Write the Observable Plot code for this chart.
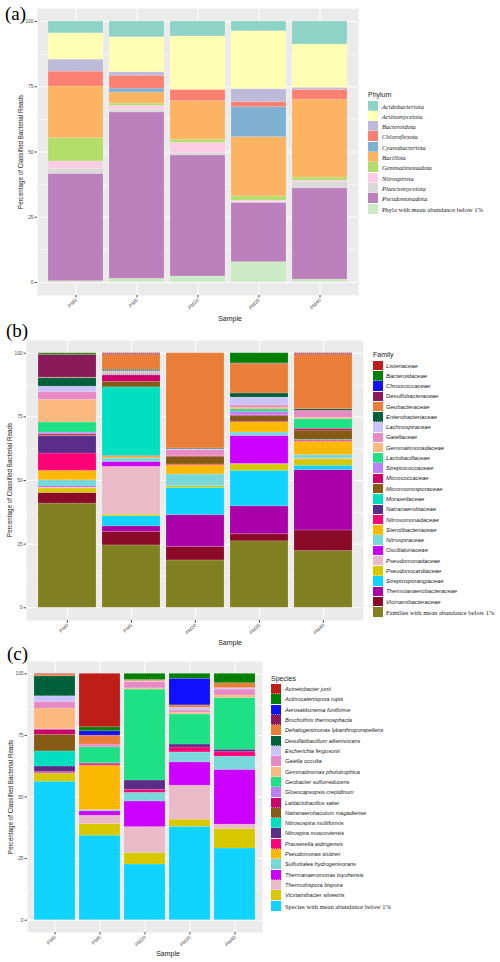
<!DOCTYPE html>
<html><head><meta charset="utf-8">
<script src="https://cdn.jsdelivr.net/npm/d3@7"></script>
<script src="https://cdn.jsdelivr.net/npm/@observablehq/plot@0.6"></script>
<style>
body{margin:0;background:#fff;}
#root{position:relative;width:500px;height:962px;overflow:hidden;font-family:"Liberation Sans",Arial,sans-serif;}
.plabel{position:absolute;font-family:"Liberation Serif","Times New Roman",serif;font-size:19px;color:#000;line-height:1;}
.ytitle{position:absolute;font-size:6.3px;color:#222;white-space:nowrap;transform:translate(-50%,-50%) rotate(-90deg);}
.xtitle{position:absolute;font-size:7px;color:#222;transform:translate(-50%,-50%);white-space:nowrap}
.lgtitle{position:absolute;font-size:7px;color:#222;white-space:nowrap;transform:translateY(-50%)}
.lgitem{position:absolute;white-space:nowrap;transform:translateY(-50%);color:#222;}
.sw{position:absolute;box-sizing:border-box;outline:0.4px dotted rgba(255,255,255,0.6);outline-offset:-0.6px}
</style>
</head>
<body>
<div id="root"></div>
<script>
// ---------- data ----------
const samples = ["PM0", "PM5", "PM20", "PM35", "PM40"];

const phyla = ["Acidobacteriota","Actinomycetota","Bacteroidota","Chloroflexota","Cyanobacteriota","Bacillota","Gemmatimonadota","Nitrospirota","Planctomycetota","Pseudomonadota","Phyla with mean abundance below 1%"];
const phylumColors = ["#8DD3C7","#FFFFB3","#BEBADA","#FB8072","#80B1D3","#FDB462","#B3DE69","#FCCDE5","#D9D9D9","#BC80BD","#CCEBC5"];
// one row per sample, values in legend order
const phylumValues = [
  [4.5, 10.1, 4.6, 5.7, 0, 19.8, 8.9, 2.9, 1.9, 41.1, 0.5],
  [6.0, 13.4, 1.4, 4.9, 1.5, 4.3, 0.8, 1.5, 1.0, 63.8, 1.4],
  [5.7, 20.5, 0, 4.3, 0, 14.8, 1.2, 3.8, 1.0, 46.4, 2.3],
  [3.7, 22.2, 5.0, 1.9, 11.5, 22.7, 1.6, 0.6, 0.3, 22.7, 7.8],
  [8.8, 16.6, 0.8, 3.7, 0, 29.9, 1.2, 0.6, 2.3, 35.0, 1.1]
];

const families = ["Listeriaceae","Bacteroidaceae","Chroococcaceae","Desulfobacteraceae","Geobacteraceae","Enterobacteriaceae","Lachnospiraceae","Gaiellaceae","Gemmatimonadaceae","Lactobacillaceae","Streptococcaceae","Micrococcaceae","Micromonosporaceae","Moraxellaceae","Natranaerobiaceae","Nitrosomonadaceae","Sterolibacteriaceae","Nitrospiraceae","Oscillatoriaceae","Pseudomonadaceae","Pseudonocardiaceae","Streptosporangiaceae","Thermoanaerobacteraceae","Vicinamibacteraceae","Families with mean abundance below 1%"];
const familyColors = ["#BE1E1E","#008000","#1010FF","#8B1A5A","#E87E38","#00603A","#CBC3FF","#E88BC4","#FCB97F","#1EE085","#BE7FFF","#CC0066","#845A14","#00E0C0","#5A2D8A","#FF0077","#FBB800","#78D8DA","#CC00FF","#EBBAC8","#D8C800","#10D4FF","#AA00AA","#8B0A28","#808020"];
const familyValues = [
  [0.1, 0.6, 0, 8.9, 0.2, 3.3, 2.1, 3.1, 8.9, 4.0, 0.6, 0.5, 0.3, 0, 6.8, 6.8, 3.7, 2.5, 0.3, 0.4, 1.8, 0, 0, 4.2, 40.9],
  [0.3, 0, 0, 0.4, 5.8, 0.5, 0.3, 0.5, 0.3, 0.3, 0.3, 2.6, 2.1, 27.0, 0, 0.3, 0.6, 1.4, 1.9, 18.8, 0.6, 4.0, 2.2, 5.3, 24.5],
  [0, 0, 0, 0, 37.4, 0.3, 0.3, 2.4, 0, 0, 0, 0.3, 3.0, 0, 0, 0.3, 3.6, 4.6, 0, 0, 0.7, 10.7, 12.5, 5.3, 18.6],
  [0, 4.0, 0, 0.2, 11.6, 1.6, 3.0, 0.9, 0.8, 0.9, 1.4, 0.3, 2.2, 0, 0, 0.3, 3.9, 1.4, 11.0, 0.2, 2.5, 13.9, 11.0, 2.8, 26.1],
  [0.3, 0, 0, 0.4, 21.3, 0.6, 0, 2.7, 0.6, 3.8, 0, 0.7, 3.6, 0.2, 0.2, 0.4, 5.2, 1.4, 0, 0.3, 2.5, 1.7, 23.7, 8.1, 22.3]
];

const species = ["Acinetobacter junii","Actinocatenispora rupis","Aerosakkonema funiforme","Brochothrix thermosphacta","Dehalogenimonas lykanthroporepellens","Desulfatibacillum alkenivorans","Escherichia fergusonii","Gaiella occulta","Gemmatimonas phototrophica","Geobacter sulfurreducens","Gloeocapsopsis crepidinum","Latilactobacillus sakei","Natranaerobaculum magadiense","Nitrosospira multiformis","Nitrospira moscoviensis","Prauserella aidingensis","Pseudomonas stutzeri","Sulfuritalea hydrogenivorans","Thermanaeromonas toyohensis","Thermobispora bispora","Vicinamibacter silvestris","Species with mean abundance below 1%"];
const speciesColors = ["#BE1E18","#008000","#1010FF","#8B1A5A","#E87E38","#00603A","#CBC3FF","#E88BC4","#FCB97F","#1EE085","#BE7FFF","#CC0066","#845A14","#00E0C0","#5A2D8A","#FF0077","#FBB800","#78D8DA","#CC00FF","#EBBAC8","#D8C800","#10D4FF"];
const speciesValues = [
  [0, 0, 0, 0.2, 0.8, 8.1, 2.3, 2.7, 8.4, 0, 0.2, 2.1, 6.7, 6.1, 2.2, 0.3, 0, 0, 0.3, 0, 3.4, 56.2],
  [21.7, 1.6, 1.8, 0, 3.6, 0, 0, 1.1, 0, 6.5, 0, 0.2, 0, 0, 0.3, 0.5, 18.0, 0.5, 1.8, 3.4, 4.7, 34.3],
  [0, 2.5, 0, 0, 0.5, 0, 0.3, 2.6, 0.5, 36.9, 0, 0, 0, 0, 3.8, 1.2, 0, 3.5, 10.4, 10.5, 4.7, 22.6],
  [0, 2.0, 10.8, 0, 1.0, 0, 1.1, 0.9, 0.7, 12.2, 0, 0, 0, 0, 1.2, 2.0, 0, 4.0, 9.5, 13.8, 2.9, 37.9],
  [0, 3.8, 0, 0, 2.0, 0, 0.6, 2.4, 1.0, 21.0, 0, 0, 0, 0, 1.0, 1.8, 0, 5.4, 22.2, 1.8, 7.9, 29.1]
];

const yTicks = [0, 25, 50, 75, 100];
const yMinor = [12.5, 37.5, 62.5, 87.5];

// ---------- drawing ----------
const root = document.getElementById("root");

function add(cls, text, styles) {
  const d = document.createElement("div");
  d.className = cls;
  d.textContent = text;
  Object.assign(d.style, styles);
  root.appendChild(d);
  return d;
}

function panel({top, width, height, mt, mb, ml, mr, cats, colors, values}) {
  const rows = [];
  samples.forEach((s, i) => {
    for (let j = cats.length - 1; j >= 0; j--) {
      if (values[i][j] > 0) rows.push({sample: s, cat: cats[j], value: values[i][j]});
    }
  });
  const chart = Plot.plot({
    width, height, marginTop: mt, marginBottom: mb, marginLeft: ml, marginRight: mr,
    style: {background: "transparent", fontFamily: "Liberation Sans, Arial, sans-serif", overflow: "visible"},
    x: {domain: samples, paddingInner: 0.1, paddingOuter: 0.15, label: null},
    y: {domain: [-5, 105], label: null},
    color: {domain: cats, range: colors},
    marks: [
      Plot.frame({fill: "#EBEBEB", stroke: "none"}),
      Plot.gridY(yMinor, {stroke: "white", strokeOpacity: 1, strokeWidth: 0.5}),
      Plot.gridY(yTicks, {stroke: "white", strokeOpacity: 1, strokeWidth: 1}),
      Plot.gridX(samples, {stroke: "white", strokeOpacity: 1, strokeWidth: 1}),
      Plot.barY(rows, {x: "sample", y: "value", fill: "cat", inset: 0,
        stroke: "white", strokeWidth: 0.4, strokeOpacity: 0.7, strokeDasharray: "1,1"}),
      Plot.axisY(yTicks, {tickSize: 2.5, tickPadding: 1.5, fontSize: 4.8, color: "#4D4D4D", label: null}),
      Plot.axisX(samples, {tickRotate: -45, tickSize: 2.5, tickPadding: 1.5, fontSize: 5, color: "#4D4D4D", label: null})
    ]
  });
  chart.style.position = "absolute";
  chart.style.left = "0px";
  chart.style.top = top + "px";
  root.appendChild(chart);
}

function legend({title, cats, colors, x, titleY, y0, step, sw, textX, itemFont, itemSize, lastFont, lastSize}) {
  add("lgtitle", title, {left: x + "px", top: titleY + "px"});
  cats.forEach((c, i) => {
    const cy = y0 + i * step;
    const s = document.createElement("div");
    s.className = "sw";
    Object.assign(s.style, {left: x + "px", top: (cy - sw / 2) + "px", width: sw + "px", height: sw + "px", background: colors[i]});
    root.appendChild(s);
    const last = i === cats.length - 1;
    add("lgitem", c, {
      left: textX + "px", top: cy + "px",
      fontFamily: last ? lastFont : itemFont,
      fontStyle: last ? "normal" : "italic",
      fontSize: (last ? lastSize : itemSize) + "px"
    });
  });
}

const serif = '"Liberation Serif","Times New Roman",serif';
const sans = '"Liberation Sans",Arial,sans-serif';

// Panel (a)
panel({top: 0, width: 365, height: 330, mt: 8, mb: 35, ml: 37, mr: 7,
  cats: phyla, colors: phylumColors, values: phylumValues});
// Panel (b)
panel({top: 330, width: 370, height: 320, mt: 10, mb: 30, ml: 26, mr: 7,
  cats: families, colors: familyColors, values: familyValues});
// Panel (c)
panel({top: 650, width: 270, height: 312, mt: 11, mb: 30, ml: 27, mr: 8,
  cats: species, colors: speciesColors, values: speciesValues});

add("plabel", "(a)", {left: "5px", top: "4px"});
add("plabel", "(b)", {left: "6px", top: "321px"});
add("plabel", "(c)", {left: "7px", top: "644px"});

const yTitle = "Percentage of Classified Bacterial Reads";
add("ytitle", yTitle, {left: "20px", top: "152px"});
add("ytitle", yTitle, {left: "9px", top: "480px"});
add("ytitle", yTitle, {left: "10px", top: "797px"});

add("xtitle", "Sample", {left: "230px", top: "318px"});
add("xtitle", "Sample", {left: "230px", top: "642px"});
add("xtitle", "Sample", {left: "168px", top: "953px"});

legend({title: "Phylum", cats: phyla, colors: phylumColors, x: 368, titleY: 94, y0: 105.5, step: 10.3, sw: 10,
  textX: 382, itemFont: serif, itemSize: 6.5, lastFont: serif, lastSize: 6.5});
legend({title: "Family", cats: families, colors: familyColors, x: 373, titleY: 354, y0: 365.5, step: 10.27, sw: 9.5,
  textX: 386, itemFont: sans, itemSize: 5.9, lastFont: serif, lastSize: 6.5});
legend({title: "Species", cats: species, colors: speciesColors, x: 271, titleY: 678, y0: 689, step: 10.32, sw: 10,
  textX: 285, itemFont: sans, itemSize: 5.6, lastFont: serif, lastSize: 6.5});
</script>
</body></html>
